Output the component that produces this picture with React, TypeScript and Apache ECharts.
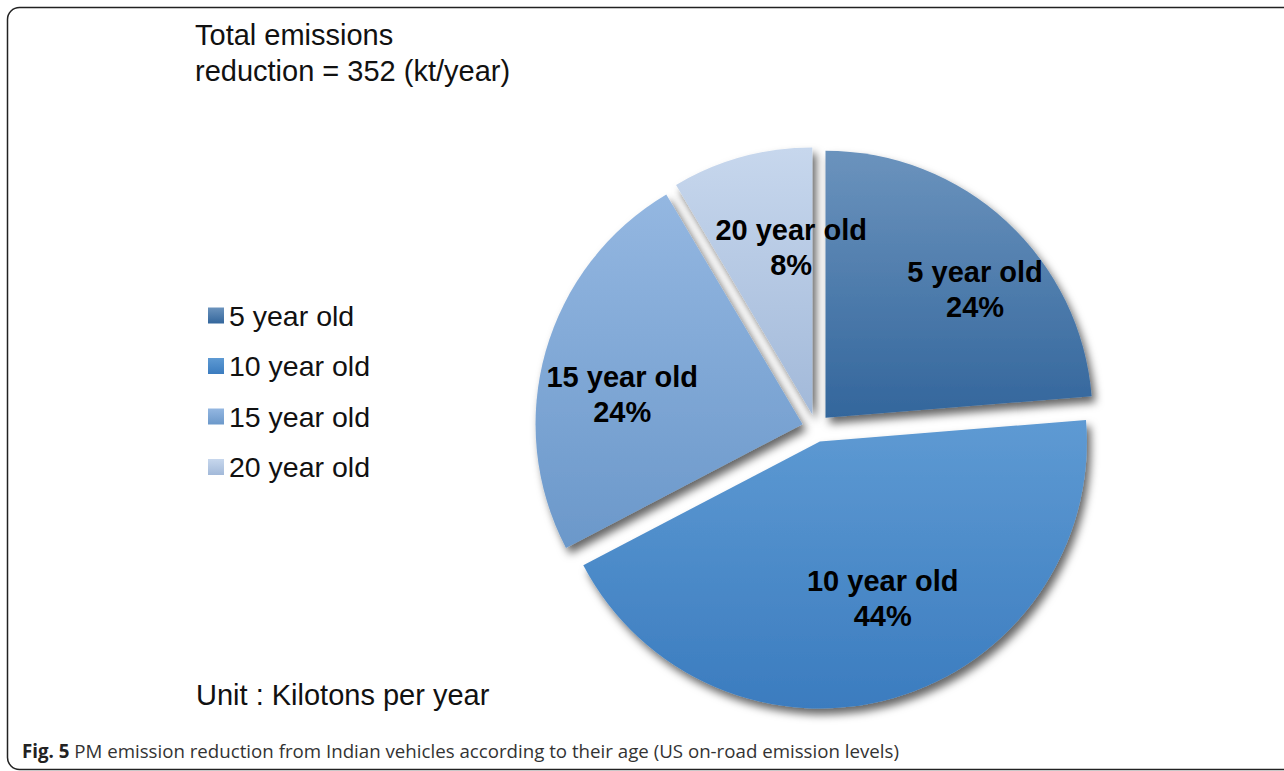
import React, { useEffect, useRef } from "react";
import * as echarts from "echarts";

const categories = ["5 year old", "10 year old", "15 year old", "20 year old"];
// kt/year (total 352)
const reductionKt = [83.5, 153.5, 85, 30];
const titleLines = ["Total emissions", "reduction = 352 (kt/year)"];
const unitText = "Unit : Kilotons per year";
const captionBold = "Fig. 5";
const captionText = " PM emission reduction from Indian vehicles according to their age (US on-road emission levels)";

const gradients = [
  ["#6b93bd", "#33669c"],
  ["#5e9ad3", "#3b7cbf"],
  ["#94b7e1", "#6b98ca"],
  ["#c7d7ed", "#a2b9d9"],
];
const labelShift = [
  [57, -28],
  [25, 26],
  [-49, 8],
  [15, -35],
];

const FONT = "'Liberation Sans', Arial, Helvetica, sans-serif";

export default function App() {
  const ref = useRef<HTMLDivElement>(null);
  useEffect(() => {
    if (!ref.current) return;
    const chart = echarts.init(ref.current, null, { renderer: "svg" });
    const data = categories.map((name, i) => ({
      name,
      value: reductionKt[i],
      selected: true,
      itemStyle: {
        color: new echarts.graphic.LinearGradient(0, 0, 0, 1, [
          { offset: 0, color: gradients[i][0] },
          { offset: 1, color: gradients[i][1] },
        ]),
      },
    }));
    chart.setOption({
      animation: false,
      backgroundColor: "#ffffff",
      title: {
        text: titleLines.join("\n"),
        left: 190,
        top: 12,
        textStyle: {
          fontFamily: FONT,
          fontSize: 29,
          fontWeight: "normal",
          color: "#111",
          lineHeight: 36,
        },
      },
      legend: {
        orient: "vertical",
        left: 203,
        top: 296,
        icon: "rect",
        itemWidth: 16,
        itemHeight: 16,
        itemGap: 21.5,
        selectedMode: false,
        textStyle: {
          fontFamily: FONT,
          fontSize: 28.5,
          color: "#111",
        },
        data: categories,
      },
      graphic: [
        {
          type: "rect",
          shape: { x: 7.5, y: 7.5, width: 1300, height: 762, r: 12 },
          style: { fill: "none", stroke: "#222", lineWidth: 1.5 },
          silent: true,
        },
        {
          type: "text",
          left: 196,
          top: 680,
          style: {
            text: unitText,
            font: `29px ${FONT}`,
            fill: "#111",
          },
        },
        {
          type: "text",
          left: 22,
          top: 741,
          style: {
            text: `{b|${captionBold}}{r|${captionText}}`,
            rich: {
              b: { fontFamily: "'Open Sans', sans-serif", fontSize: 18.7, fontWeight: "bold", fill: "#222" },
              r: { fontFamily: "'Open Sans', sans-serif", fontSize: 18.7, fill: "#333" },
            },
          },
        },
      ],
      series: [
        {
          type: "pie",
          center: [816, 428],
          radius: [0, 267],
          startAngle: 90,
          clockwise: true,
          percentPrecision: 0,
          selectedMode: "multiple",
          selectedOffset: 14,
          avoidLabelOverlap: false,
          emphasis: { disabled: true },
          itemStyle: {
            shadowBlur: 9,
            shadowOffsetX: 4,
            shadowOffsetY: 6,
            shadowColor: "rgba(0,0,0,0.6)",
          },
          label: {
            show: true,
            position: "inside",
            formatter: "{b}\n{d}%",
            fontFamily: FONT,
            fontSize: 29,
            fontWeight: "bold",
            color: "#000",
            lineHeight: 35,
            align: "center",
          },
          labelLayout: (params: any) => ({
            dx: labelShift[params.dataIndex][0],
            dy: labelShift[params.dataIndex][1],
          }),
          labelLine: { show: false },
          data,
        },
      ],
    });
    return () => chart.dispose();
  }, []);
  return (
    <div
      ref={ref}
      style={{ position: "fixed", left: 0, top: 0, width: 1284, height: 771 }}
    />
  );
}
